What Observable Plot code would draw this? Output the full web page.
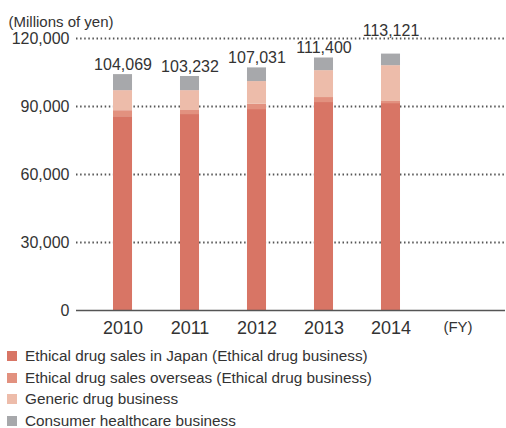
<!DOCTYPE html>
<html>
<head>
<meta charset="utf-8">
<script src="https://cdn.jsdelivr.net/npm/d3@7"></script>
<script src="https://cdn.jsdelivr.net/npm/@observablehq/plot@0.6"></script>
<style>
  html, body { margin: 0; padding: 0; background: #fff; }
  body { width: 506px; height: 428px; overflow: hidden; font-family: "Liberation Sans", Arial, sans-serif; color: #333; }
  #legend { margin: 5px 0 0 7px; }
  .item { display: flex; align-items: center; height: 21.7px; font-size: 15.3px; color: #333; }
  .sw { width: 10px; height: 10px; margin-right: 8px; flex: none; }
</style>
</head>
<body>
<div id="chart"></div>
<div id="legend"></div>
<script>
const years = ["2010", "2011", "2012", "2013", "2014"];
const axisCategories = ["2010", "2011", "2012", "2013", "2014", "(FY)"];
const seriesNames = [
  "Ethical drug sales in Japan (Ethical drug business)",
  "Ethical drug sales overseas (Ethical drug business)",
  "Generic drug business",
  "Consumer healthcare business"
];
const seriesColors = ["#d87565", "#e2917f", "#edbcaa", "#a7a8ab"];
const japanSales    = [85500, 86450, 88650, 91750, 91300];
const overseasSales = [2650, 1780, 2350, 2200, 900];
const genericSales  = [8850, 8770, 10000, 11870, 15820];
const consumerSales = [7069, 6232, 6031, 5580, 5101];
const totals = [104069, 103232, 107031, 111400, 113121];
const yTicks = [0, 30000, 60000, 90000, 120000];

const seriesValues = [japanSales, overseasSales, genericSales, consumerSales];
const rows = [];
seriesNames.forEach((name, s) => {
  years.forEach((yr, i) => rows.push({year: yr, series: name, value: seriesValues[s][i]}));
});
const yMax = yTicks[yTicks.length - 1];
const totalRows = years.map((yr, i) => ({year: yr, total: totals[i]}));
// labels that would collide with the top gridline are lifted above it
const clash = d => d.total > yMax - 7500;
const belowRows = totalRows.filter(d => !clash(d));
const aboveRows = totalRows.filter(clash).map(d => ({...d, anchor: yMax}));
const fmt = d3.format(",");

const chart = Plot.plot({
  width: 506,
  height: 340,
  marginLeft: 76,
  marginRight: 1,
  marginTop: 38,
  marginBottom: 30,
  style: {fontFamily: "Liberation Sans, Arial, sans-serif", color: "#333", background: "#fff", overflow: "visible"},
  x: {domain: axisCategories, range: [79.5, 500.5], paddingInner: 0.716, paddingOuter: 0.5, round: false, label: null},
  y: {domain: [0, yMax], label: null},
  color: {domain: seriesNames, range: seriesColors},
  marks: [
    Plot.ruleY(yTicks.filter(d => d > 0), {stroke: "#555", strokeWidth: 1.8, strokeDasharray: "1.5,2.6"}),
    Plot.barY(rows, {x: "year", y: "value", fill: "series", order: seriesNames}),
    Plot.ruleY([0], {stroke: "#555", strokeWidth: 1.6}),
    Plot.axisY({ticks: yTicks, tickFormat: fmt, tickSize: 0, tickPadding: 7, fontSize: 16, label: null}),
    Plot.axisX({tickSize: 0, tickPadding: 11, fontSize: 18, label: null, tickFormat: d => d}),
    Plot.text(belowRows, {x: "year", y: "total", text: d => fmt(d.total), dy: -5, lineAnchor: "bottom", fontSize: 16, fill: "#333"}),
    Plot.text(aboveRows, {x: "year", y: "anchor", text: d => fmt(d.total), dy: -3, lineAnchor: "bottom", fontSize: 16, fill: "#333"}),
    Plot.text(["(Millions of yen)"], {frameAnchor: "top-left", dx: -68, dy: -22, textAnchor: "start", fontSize: 15, fill: "#333"})
  ]
});
document.getElementById("chart").appendChild(chart);

// smaller "(FY)" tick label
d3.select(chart).selectAll("g[aria-label='x-axis tick label'] text").filter(function() { return this.textContent === "(FY)"; })
  .attr("font-size", 15);

const legend = document.getElementById("legend");
seriesNames.forEach((name, i) => {
  const item = document.createElement("div");
  item.className = "item";
  const sw = document.createElement("span");
  sw.className = "sw";
  sw.style.background = seriesColors[i];
  item.appendChild(sw);
  item.appendChild(document.createTextNode(name));
  legend.appendChild(item);
});
</script>
</body>
</html>
